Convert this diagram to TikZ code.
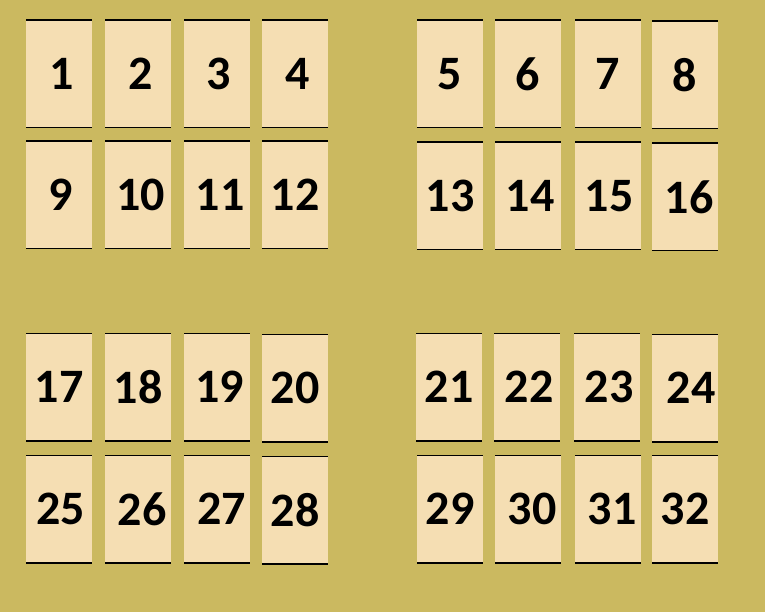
\documentclass[tikz,border=0pt]{standalone}
\usepackage{fontspec}
\setmainfont{Carlito}
\usepackage{tikz}
\definecolor{olivebg}{RGB}{203,185,96}
\definecolor{cardfill}{RGB}{245,222,179}

\begin{document}
\begin{tikzpicture}[
    x=1pt, y=-1pt,
    card/.style={rectangle, fill=cardfill, minimum width=66pt, minimum height=108pt, inner sep=0pt,
        font=\fontsize{48}{48}\selectfont\bfseries, text=black,
        path picture={\draw[line width=2.6pt]
            (path picture bounding box.north west) -- (path picture bounding box.north east)
            (path picture bounding box.south west) -- (path picture bounding box.south east);}}
]
    \fill[olivebg] (0,0) rectangle (765,612);
    \useasboundingbox (0,0) rectangle (765,612);

    % top left group
    \node[card] (c1) at (59,74) {\hspace{5pt}1};
    \node[card] (c2) at (138,74) {\hspace{5pt}2};
    \node[card] (c3) at (217,74) {\hspace{4pt}3};
    \node[card] (c4) at (295,74) {\hspace{6pt}4};
    \node[card] (c9) at (59,195) {\hspace{3pt}9};
    \node[card] (c10) at (138,195) {\hspace{5pt}10};
    \node[card] (c11) at (217,195) {\hspace{6pt}11};
    \node[card] (c12) at (295,195) {12};

    % top right group
    \node[card] (c5) at (450,74) {5\hspace{6pt}};
    \node[card] (c6) at (528,74) {6\hspace{2pt}};
    \node[card] (c7) at (608,74) {7\hspace{6pt}};
    \node[card] (c8) at (685,75) {8\hspace{4pt}};
    \node[card] (c13) at (450,196) {13};
    \node[card] (c14) at (528,196) {\hspace{4pt}14};
    \node[card] (c15) at (608,196) {\hspace{2pt}15};
    \node[card] (c16) at (685,197) {\hspace{8pt}16};

    % bottom left group
    \node[card] (c17) at (59,387) {17};
    \node[card] (c18) at (138,387) {18};
    \node[card] (c19) at (217,387) {\hspace{5pt}19};
    \node[card] (c20) at (295,388) {20\hspace{6pt}};
    \node[card] (c25) at (59,509) {\hspace{3pt}25};
    \node[card] (c26) at (138,509) {\hspace{8pt}26};
    \node[card] (c27) at (217,509) {\hspace{9pt}27};
    \node[card] (c28) at (295,510) {28\hspace{3pt}};

    % bottom right group
    \node[card] (c21) at (449,387) {21};
    \node[card] (c22) at (527,387) {\hspace{4pt}22};
    \node[card] (c23) at (607,387) {\hspace{4pt}23};
    \node[card] (c24) at (685,388) {\hspace{12pt}24};
    \node[card] (c29) at (450,509) {29};
    \node[card] (c30) at (528,509) {\hspace{8pt}30};
    \node[card] (c31) at (608,509) {\hspace{8pt}31};
    \node[card] (c32) at (685,509) {32};
\end{tikzpicture}
\end{document}
